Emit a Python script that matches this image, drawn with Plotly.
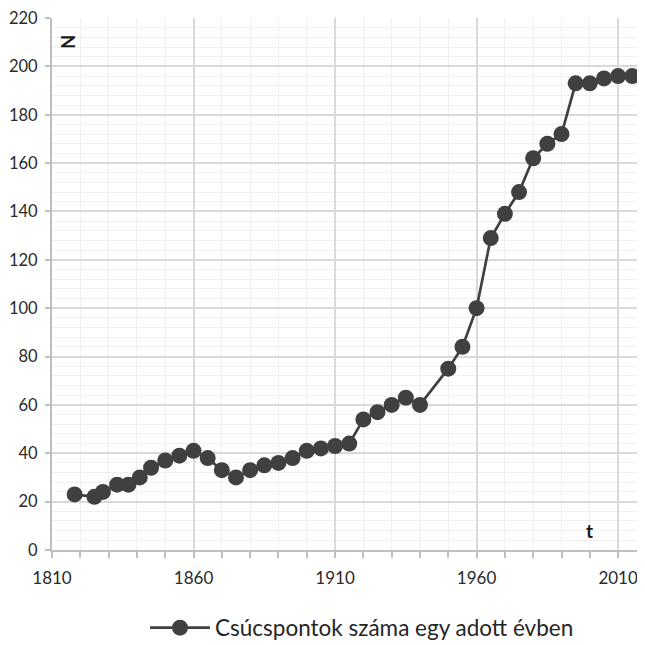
import plotly.graph_objects as go

years = [1818, 1825, 1828, 1833, 1837, 1841, 1845, 1850, 1855, 1860,
         1865, 1870, 1875, 1880, 1885, 1890, 1895, 1900, 1905, 1910,
         1915, 1920, 1925, 1930, 1935, 1940, 1950, 1955, 1960, 1965,
         1970, 1975, 1980, 1985, 1990, 1995, 2000, 2005, 2010, 2015]
counts = [23, 22, 24, 27, 27, 30, 34, 37, 39, 41,
          38, 33, 30, 33, 35, 36, 38, 41, 42, 43,
          44, 54, 57, 60, 63, 60, 75, 84, 100, 129,
          139, 148, 162, 168, 172, 193, 193, 195, 196, 196]
series_name = "Csúcspontok száma egy adott évben"
x_ticks = [1810, 1860, 1910, 1960, 2010]
y_ticks = list(range(0, 221, 20))

dark = "#2a2a2a"
font = "Lato"
W = H = 637  # page body has an 8px margin

fig = go.Figure()
fig.add_trace(go.Scatter(
    x=years, y=counts, mode="lines+markers", name=series_name,
    line=dict(color="#404040", width=2.7),
    marker=dict(size=16, color="#404040"),
    cliponaxis=False,
))

fig.update_layout(
    width=W, height=H,
    margin=dict(l=44, r=0, t=10, b=95),
    paper_bgcolor="white", plot_bgcolor="white",
    font=dict(family=font, color=dark, size=17),
    showlegend=True,
    legend=dict(orientation="h", x=354 / W, xref="container", xanchor="center",
                y=(H - 620) / H, yref="container", yanchor="middle",
                font=dict(size=22.5, color="#262626"), itemwidth=60),
    xaxis=dict(
        range=[1810, 2019.5], tickvals=x_ticks, showgrid=True,
        gridcolor="#d9d9d9", gridwidth=2,
        showline=True, linecolor="#bfbfbf", linewidth=2,
        ticks="outside", ticklen=6, tickcolor="#bfbfbf", tickwidth=2,
        minor=dict(dtick=10, tick0=1810, showgrid=True, gridcolor="#f0f0f0", gridwidth=1,
                   ticks="outside", ticklen=6, tickcolor="#bfbfbf", tickwidth=2),
        zeroline=False, ticklabelstandoff=6, automargin=False,
        ticklabeloverflow="allow",
    ),
    yaxis=dict(
        range=[0, 220], tickvals=y_ticks, showgrid=True,
        gridcolor="#d9d9d9", gridwidth=2,
        showline=True, linecolor="#bfbfbf", linewidth=2,
        ticks="outside", ticklen=5, tickcolor="#bfbfbf", tickwidth=2,
        minor=dict(dtick=4, tick0=0, showgrid=True, gridcolor="#f0f0f0", gridwidth=1),
        zeroline=False, ticklabelstandoff=4, automargin=False,
        ticklabeloverflow="allow", tickfont=dict(size=16.5),
    ),
    annotations=[
        dict(text="<b>N</b>", xref="paper", yref="paper", x=0.005, y=0.972,
             showarrow=False, textangle=-90, font=dict(size=18, color="#1a1a1a")),
        dict(text="<b>t</b>", xref="x", yref="y", x=2000, y=8,
             showarrow=False, font=dict(size=19, color="#1a1a1a")),
    ],
)

fig.write_html("out.html")
